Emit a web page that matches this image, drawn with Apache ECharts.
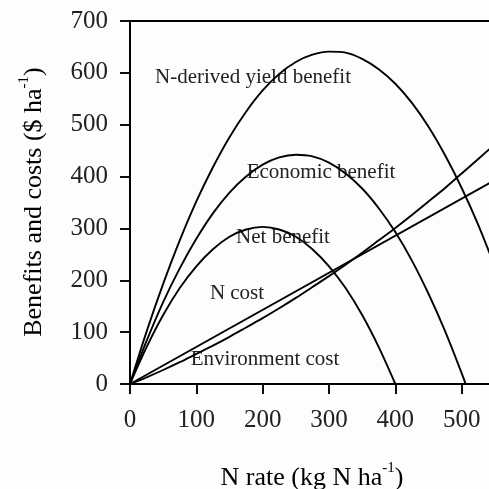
<!DOCTYPE html>
<html>
<head>
<meta charset="utf-8">
<script src="https://cdn.jsdelivr.net/npm/echarts@6/dist/echarts.min.js"></script>
<style>
html,body{margin:0;padding:0;background:#fdfdfd;}
#chart{width:489px;height:489px;}
</style>
</head>
<body>
<div id="chart"></div>
<script>
// N rate (kg N/ha) sample points
const nRate = [0,25,50,75,100,125,150,175,200,225,250,275,300,325,350,375,400,425,450,475,500,525,550];
// N-derived yield benefit ($/ha)
const yieldBenefit = [0,101,193,277,352,418,476,525,566,598,621,635,641,639,627,607,579,542,496,441,378,307,226];
// Economic benefit ($/ha)
const econRate = [0,25,50,75,100,125,150,175,200,225,250,275,300,325,350,375,400,425,450,475,500,506];
const economicBenefit = [0,83,158,223,280,329,369,400,423,437,442,439,427,406,377,339,293,238,174,102,21,0];
// Net benefit ($/ha)
const netRate = [0,25,50,75,100,125,150,175,200,225,250,275,300,325,350,375,400];
const netBenefit = [0,71,133,185,227,260,284,298,303,298,284,260,227,185,133,71,0];
// N cost ($/ha)
const costRate = [0,550];
const nCost = [0,393];
// Environment cost ($/ha)
const envCost = [0,13,27,42,58,74,91,109,127,146,166,187,208,230,253,277,301,326,352,378,406,434,462];

const xTicks = [0,100,200,300,400,500,600];
const yTicks = [0,100,200,300,400,500,600,700];

const pairs = (xs, ys) => xs.map((x, i) => [x, ys[i]]);
const serif = "'Liberation Serif','Times New Roman',serif";
const lineStyle = {color:'#000', width:1.9};
const mk = (name, data, smooth) => ({name, type:'line', data, showSymbol:false, symbol:'none', smooth, lineStyle, clip:true, silent:true, animation:false});

const chart = echarts.init(document.getElementById('chart'), null, {renderer:'canvas'});
const labelStyle = (t, x, y) => ({type:'text', x, y, style:{text:t, font:'21px ' + serif, fill:'#222', textAlign:'center', textVerticalAlign:'middle'}, silent:true});

chart.setOption({
  backgroundColor:'#fdfdfd',
  animation:false,
  grid:{left:130, top:21, width:398, height:363, containLabel:false, outerBoundsMode:'none',
        show:true, borderColor:'#000', borderWidth:1.9, backgroundColor:'transparent'},
  xAxis:{type:'value', min:xTicks[0], max:xTicks[xTicks.length-1], interval:100,
    axisLine:{show:true, onZero:false, lineStyle:{color:'#000', width:1.9}},
    axisTick:{show:true, inside:false, length:10, lineStyle:{color:'#000', width:1.9}},
    axisLabel:{margin:24, fontSize:25, fontFamily:serif, color:'#222'},
    splitLine:{show:false}},
  yAxis:{type:'value', min:yTicks[0], max:yTicks[yTicks.length-1], interval:100,
    axisLine:{show:true, lineStyle:{color:'#000', width:1.9}},
    axisTick:{show:true, inside:false, length:10, lineStyle:{color:'#000', width:1.9}},
    axisLabel:{margin:22, fontSize:25, fontFamily:serif, color:'#222'},
    splitLine:{show:false}},
  series:[
    mk('N-derived yield benefit', pairs(nRate, yieldBenefit), 0.3),
    mk('Economic benefit', pairs(econRate, economicBenefit), 0.3),
    mk('Net benefit', pairs(netRate, netBenefit), 0.3),
    mk('N cost', pairs(costRate, nCost), false),
    mk('Environment cost', pairs(nRate, envCost), 0.3)
  ],
  graphic:[
    labelStyle('N-derived yield benefit', 253, 77),
    labelStyle('Economic benefit', 321, 172),
    labelStyle('Net benefit', 283, 237),
    labelStyle('N cost', 237, 293),
    labelStyle('Environment cost', 265, 359),
    {type:'text', x:312, y:476, silent:true,
      style:{text:'{a|N rate (kg N ha}{s|-1}{a|)}', textAlign:'center', textVerticalAlign:'middle',
        rich:{a:{fontSize:26, fontFamily:serif, color:'#222', lineHeight:30, verticalAlign:'bottom'},
              s:{fontSize:15, fontFamily:serif, color:'#222', lineHeight:30, verticalAlign:'top'}}}},
    {type:'text', x:32, y:202, rotation:Math.PI/2, silent:true,
      style:{text:'{a|Benefits and costs ($ ha}{s|-1}{a|)}', textAlign:'center', textVerticalAlign:'middle',
        rich:{a:{fontSize:26, fontFamily:serif, color:'#222', lineHeight:30, verticalAlign:'bottom'},
              s:{fontSize:15, fontFamily:serif, color:'#222', lineHeight:30, verticalAlign:'top'}}}}
  ]
});
</script>
</body>
</html>
